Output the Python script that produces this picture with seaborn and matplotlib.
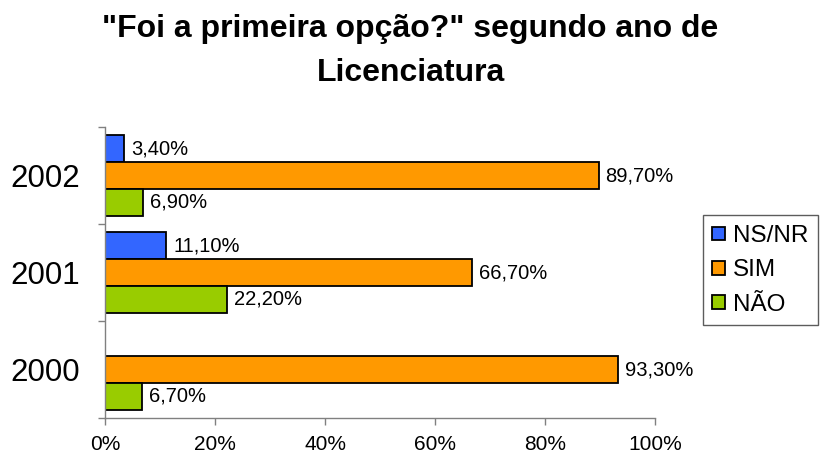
import numpy as np
import pandas as pd
import seaborn as sns
import matplotlib.pyplot as plt
from matplotlib.ticker import PercentFormatter

# dados
anos = ['2002', '2001', '2000']
respostas = ['NS/NR', 'SIM', 'NÃO']
ns_nr = [3.4, 11.1, np.nan]
sim = [89.7, 66.7, 93.3]
nao = [6.9, 22.2, 6.7]
cores = ['#3366FF', '#FF9900', '#99CC00']
x_ticks = [0, 20, 40, 60, 80, 100]

df = pd.DataFrame({
    'ano': anos * 3,
    'resposta': [r for r in respostas for _ in anos],
    'pct': ns_nr + sim + nao,
})

sns.set_style('white')
plt.rcParams['font.family'] = ['Liberation Sans', 'DejaVu Sans']
plt.rcParams['text.color'] = 'black'
plt.rcParams['xtick.color'] = 'black'
plt.rcParams['ytick.color'] = 'black'

fig = plt.figure(figsize=(8.21, 4.59), dpi=100)
ax = fig.add_axes([0.128, 0.0893, 0.67, 0.634])

sns.barplot(data=df, x='pct', y='ano', hue='resposta', orient='h',
            order=anos, hue_order=respostas, palette=cores, saturation=1,
            width=0.83, edgecolor='black', linewidth=1.3, ax=ax)

for c in ax.containers:
    ax.bar_label(c, fmt=lambda v: f'{v:.2f}%'.replace('.', ','),
                 padding=5, fontsize=14.5)

ax.set_xlim(0, 100)
ax.set_xticks(x_ticks)
ax.xaxis.set_major_formatter(PercentFormatter(xmax=100, decimals=0))
ax.set_ylim(2.5, -0.5)
ax.set_yticks([0, 1, 2])
ax.set_yticklabels(anos)
ax.set_yticks([-0.5, 0.5, 1.5, 2.5], minor=True)
ax.tick_params(axis='y', which='major', length=0, pad=18, labelsize=22.5)
ax.tick_params(axis='y', which='minor', length=5, color='#808080', width=1, left=True)
ax.tick_params(axis='x', length=5, color='#808080', width=1, bottom=True,
               pad=7, labelsize=15)
ax.set_xlabel('')
ax.set_ylabel('')

for s in ['top', 'right']:
    ax.spines[s].set_visible(False)
for s in ['left', 'bottom']:
    ax.spines[s].set_color('#808080')
    ax.spines[s].set_linewidth(1)

sns.move_legend(ax, loc='center left', bbox_to_anchor=(0.856, 0.411),
                bbox_transform=fig.transFigure, title=None, fontsize=17.5,
                frameon=True, fancybox=False, edgecolor='#333333',
                handlelength=0.5, handleheight=0.5, handletextpad=0.35,
                labelspacing=0.5, borderpad=0.4, borderaxespad=0)
leg = ax.get_legend()
leg.get_frame().set_linewidth(1)
for h in leg.legend_handles:
    h.set_edgecolor('black')
    h.set_linewidth(1.3)

fig.suptitle('"Foi a primeira opção?" segundo ano de\nLicenciatura',
             x=0.5, y=0.97, fontsize=23, fontweight='bold', linespacing=1.6)

fig.savefig('out.png', dpi=100)
